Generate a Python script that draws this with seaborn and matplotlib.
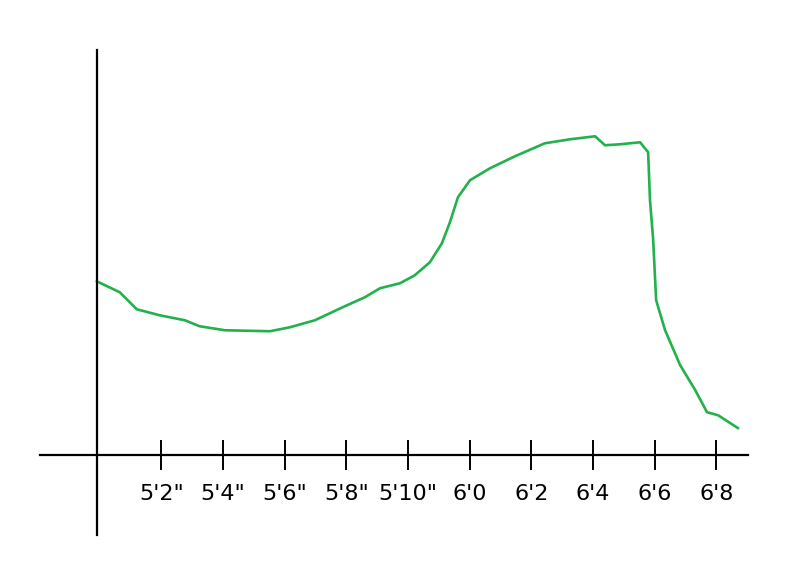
import pandas as pd
import matplotlib
matplotlib.use("Agg")
import matplotlib.pyplot as plt
import seaborn as sns

# height in inches, value of the hand-drawn curve (arbitrary units)
heights = [59.90, 60.65, 60.91, 61.20, 61.94, 62.76, 63.24, 64.06, 65.52, 66.17,
           66.98, 67.95, 68.60, 69.09, 69.74, 70.22, 70.71, 71.10, 71.36, 71.62,
           72.01, 72.66, 73.47, 74.44, 75.26, 76.07, 76.39, 76.88, 77.53, 77.79,
           77.85, 77.95, 78.05, 78.34, 78.83, 79.32, 79.70, 80.06, 80.71]
values = [174, 163, 155, 146, 140, 135, 129, 125, 124, 128,
          135, 149, 158, 167, 172, 180, 193, 212, 233, 258,
          275, 287, 299, 312, 316, 319, 310, 311, 313, 303,
          255, 217, 155, 125, 90, 65, 43, 40, 27]
tick_pos = [62, 64, 66, 68, 70, 72, 74, 76, 78, 80]
tick_labels = ["5'2\"", "5'4\"", "5'6\"", "5'8\"", "5'10\"",
               "6'0", "6'2", "6'4", "6'6", "6'8"]


def main():
    df = pd.DataFrame({"height": heights, "value": values})
    sns.set_style("white")
    fig = plt.figure(figsize=(8.09, 5.78), dpi=100)
    ax = fig.add_axes([0.049, 0.074, 0.876, 0.839])
    sns.lineplot(data=df, x="height", y="value", color="#22B14C",
                 linewidth=1.9, ax=ax)
    ax.set_xlim(58.05, 81.04)
    ax.set_ylim(-80, 405)
    for s in ["top", "right"]:
        ax.spines[s].set_visible(False)
    ax.spines["bottom"].set_position(("data", 0))
    ax.spines["left"].set_position(("data", 59.9))
    for s in ["bottom", "left"]:
        ax.spines[s].set_linewidth(1.6)
        ax.spines[s].set_color("black")
    ax.set_xticks(tick_pos)
    ax.set_xticklabels(tick_labels, fontsize=16, color="black")
    ax.tick_params(axis="x", direction="inout", length=22, width=1.4,
                   color="black", pad=10, bottom=True)
    ax.set_yticks([])
    ax.set_xlabel("")
    ax.set_ylabel("")
    fig.savefig("out.png", dpi=100)


if __name__ == "__main__":
    main()
